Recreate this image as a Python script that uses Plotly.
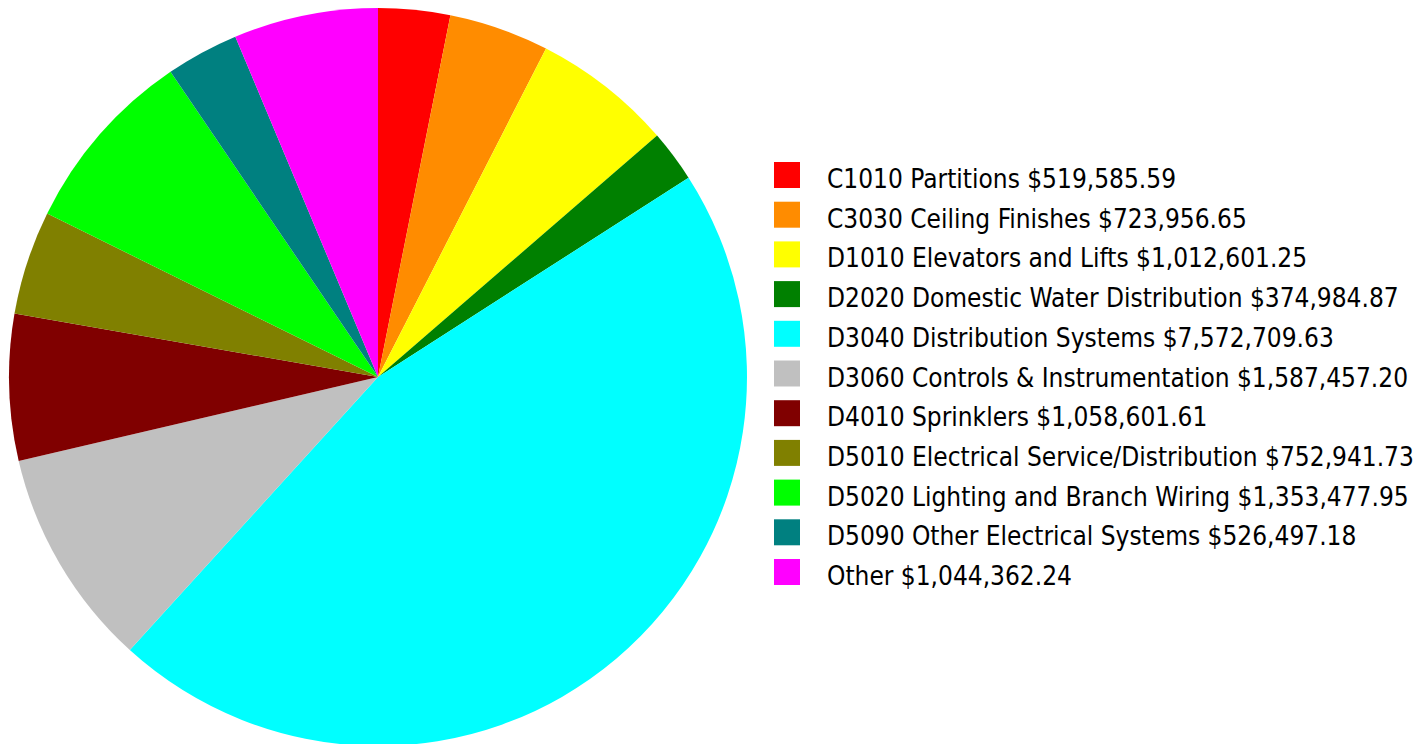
import plotly.graph_objects as go

# Cost breakdown by system
categories = [
    "C1010 Partitions",
    "C3030 Ceiling Finishes",
    "D1010 Elevators and Lifts",
    "D2020 Domestic Water Distribution",
    "D3040 Distribution Systems",
    "D3060 Controls & Instrumentation",
    "D4010 Sprinklers",
    "D5010 Electrical Service/Distribution",
    "D5020 Lighting and Branch Wiring",
    "D5090 Other Electrical Systems",
    "Other",
]
costs = [
    519585.59,
    723956.65,
    1012601.25,
    374984.87,
    7572709.63,
    1587457.20,
    1058601.61,
    752941.73,
    1353477.95,
    526497.18,
    1044362.24,
]
colors = [
    "#FF0000", "#FF8C00", "#FFFF00", "#008000", "#00FFFF", "#C0C0C0",
    "#800000", "#808000", "#00FF00", "#008080", "#FF00FF",
]

W, H = 1427, 754
FONT = "DejaVu Sans Condensed"


def px_x(x):
    return x / W


def px_y(y):
    return 1 - y / H


fig = go.Figure(
    go.Pie(
        labels=categories,
        values=costs,
        sort=False,
        direction="clockwise",
        rotation=0,
        marker=dict(colors=colors, line=dict(width=0)),
        textinfo="none",
        showlegend=False,
        domain=dict(x=[px_x(9), px_x(747)], y=[px_y(746), px_y(8)]),
    )
)

# Legend drawn as colour swatches with labels
shapes = []
annotations = []
row0, step = 175.0, 39.7
for i, (name, val, col) in enumerate(zip(categories, costs, colors)):
    cy = row0 + i * step
    shapes.append(dict(
        type="rect", xref="paper", yref="paper",
        x0=px_x(774), x1=px_x(800), y0=px_y(cy + 13), y1=px_y(cy - 13),
        fillcolor=col, line=dict(width=0),
    ))
    annotations.append(dict(
        xref="paper", yref="paper", x=px_x(825), y=px_y(cy + 4),
        xanchor="left", yanchor="middle", showarrow=False,
        text=f"{name} ${val:,.2f}",
        font=dict(family=FONT, size=26, color="#000000"),
    ))

fig.update_layout(
    width=W, height=H,
    margin=dict(l=0, r=0, t=0, b=0),
    paper_bgcolor="#FFFFFF",
    plot_bgcolor="#FFFFFF",
    shapes=shapes,
    annotations=annotations,
)

fig.write_html(
    "out.html",
    post_script="document.body.style.overflow='hidden';document.body.style.margin='0';",
)
